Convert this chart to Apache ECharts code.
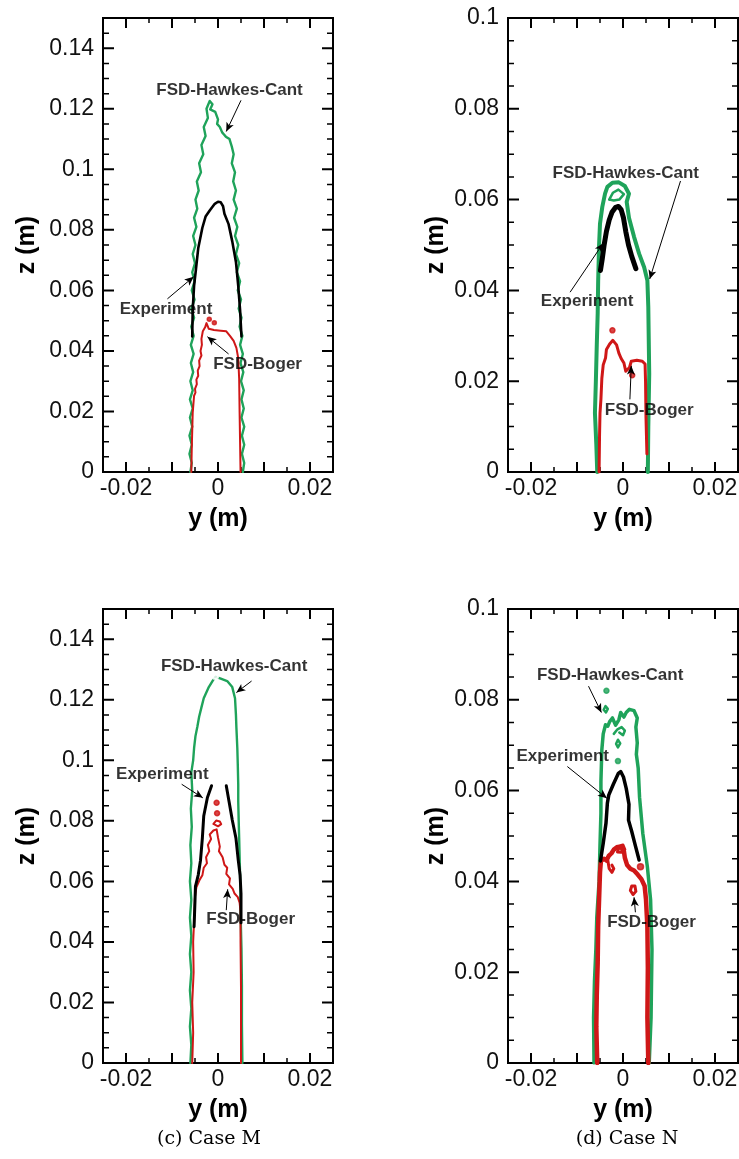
<!DOCTYPE html>
<html>
<head>
<meta charset="utf-8">
<script src="https://cdn.jsdelivr.net/npm/echarts@6/dist/echarts.min.js"></script>
<style>
  html, body { margin: 0; padding: 0; background: #fff; }
  #chart { width: 739px; height: 1159px; }
</style>
</head>
<body>
<div id="chart"></div>
<script>
// ---------- axis ticks and labels ----------
const xMajorTicks = [-0.02, -0.01, 0, 0.01, 0.02];
const xMinorTicks = [-0.015, -0.005, 0.005, 0.015];
const xLabelValues = [-0.02, 0, 0.02];
const xLabelTexts = ['-0.02', '0', '0.02'];
const zTicksTall = [0, 0.02, 0.04, 0.06, 0.08, 0.1, 0.12, 0.14];
const zTextsTall = ['0', '0.02', '0.04', '0.06', '0.08', '0.1', '0.12', '0.14'];
const zMinorTall = [0.005, 0.01, 0.015, 0.025, 0.03, 0.035, 0.045, 0.05, 0.055, 0.065, 0.07, 0.075,
  0.085, 0.09, 0.095, 0.105, 0.11, 0.115, 0.125, 0.13, 0.135, 0.145];
const zTicksShort = [0, 0.02, 0.04, 0.06, 0.08, 0.1];
const zTextsShort = ['0', '0.02', '0.04', '0.06', '0.08', '0.1'];
const zMinorShort = [0.005, 0.01, 0.015, 0.025, 0.03, 0.035, 0.045, 0.05, 0.055, 0.065, 0.07, 0.075,
  0.085, 0.09, 0.095];
const captions = ['', '', '(c) Case M', '(d) Case N'];
const noteTexts = ['FSD-Hawkes-Cant', 'Experiment', 'FSD-Boger'];

// ---------- panel 1 (upper left) flame fronts, [y, z] in metres ----------
const p1Hawkes = [
  [-0.0060,0.000],[-0.0057,0.003],[-0.0062,0.006],[-0.0057,0.009],[-0.0062,0.012],[-0.0056,0.015],
  [-0.0061,0.018],[-0.0055,0.021],[-0.0061,0.024],[-0.0055,0.027],[-0.0060,0.030],[-0.0054,0.033],
  [-0.0059,0.036],[-0.0053,0.039],[-0.0059,0.042],[-0.0053,0.045],[-0.0058,0.048],[-0.0052,0.051],
  [-0.0058,0.054],[-0.0051,0.057],[-0.0057,0.060],[-0.0051,0.063],[-0.0056,0.066],[-0.0050,0.069],
  [-0.0055,0.072],[-0.0049,0.075],[-0.0054,0.078],[-0.0047,0.081],[-0.0052,0.084],[-0.0045,0.087],
  [-0.0049,0.090],[-0.0042,0.093],[-0.0046,0.096],[-0.0037,0.099],[-0.0041,0.102],[-0.0032,0.105],
  [-0.0036,0.108],[-0.0027,0.111],[-0.0031,0.114],[-0.0022,0.117],[-0.0025,0.120],[-0.0018,0.1226],
  [-0.0012,0.1215],[-0.0017,0.1198],[-0.0006,0.1190],[0.0000,0.1165],[-0.0002,0.1150],[0.0004,0.1140],
  [0.0009,0.1122],[0.0013,0.1115],[0.0017,0.1108],[0.0025,0.1100],[0.0030,0.1075],[0.0034,0.105],
  [0.0030,0.102],[0.0037,0.099],[0.0033,0.096],[0.0039,0.093],[0.0034,0.090],[0.0041,0.087],
  [0.0035,0.084],[0.0042,0.081],[0.0037,0.078],[0.0044,0.075],[0.0039,0.072],[0.0046,0.069],
  [0.0041,0.066],[0.0048,0.063],[0.0043,0.060],[0.0050,0.057],[0.0045,0.054],[0.0051,0.051],
  [0.0047,0.048],[0.0053,0.045],[0.0048,0.042],[0.0054,0.039],[0.0049,0.036],[0.0055,0.033],
  [0.0050,0.030],[0.0056,0.027],[0.0051,0.024],[0.0056,0.021],[0.0051,0.018],[0.0057,0.015],
  [0.0052,0.012],[0.0057,0.009],[0.0052,0.006],[0.0057,0.003],[0.0054,0.000]
];
const p1Exp = [
  [-0.0056,0.0448],[-0.0055,0.0535],[-0.0052,0.0615],[-0.0048,0.0669],[-0.0043,0.0739],[-0.0034,0.0807],
  [-0.0027,0.0844],[-0.0018,0.0864],[-0.0007,0.0886],[0.0000,0.0893],[0.0006,0.0891],[0.0011,0.0878],
  [0.0014,0.0853],[0.0023,0.0819],[0.0031,0.0762],[0.0039,0.0694],[0.0044,0.0615],[0.0048,0.0535],
  [0.0051,0.0448]
];
const p1Boger = [
  [-0.0058,0.000],[-0.0057,0.0082],[-0.0055,0.0195],[-0.0052,0.0252],[-0.0049,0.0262],[-0.0050,0.0275],
  [-0.0046,0.0290],[-0.0047,0.0305],[-0.0043,0.0318],[-0.0044,0.0335],[-0.0040,0.0350],[-0.0041,0.0368],
  [-0.0036,0.0385],[-0.0038,0.0400],[-0.0035,0.0420],[-0.0036,0.0440],[-0.0033,0.0465],[-0.0028,0.0478],
  [-0.0025,0.0492],[-0.0020,0.0473],[-0.0009,0.0469],[0.0006,0.0467],[0.0018,0.0465],[0.0026,0.0450],
  [0.0034,0.0433],[0.0040,0.0410],[0.0044,0.0376],[0.0046,0.0308],[0.0047,0.0195],[0.0049,0.000]
];
const p1BogerDots = [[-0.0019,0.0505],[-0.0008,0.0493]];
const p1NoteAt = [[0.0025,0.1262],[-0.0113,0.0536],[0.0086,0.0357]];
const p1ArrowFrom = [[0.0050,0.1228],[-0.0110,0.0572],[0.0023,0.0390]];
const p1ArrowTo = [[0.0018,0.1125],[-0.0053,0.0645],[-0.0023,0.0447]];

// ---------- panel 2 (upper right) ----------
const p2Hawkes = [
  [-0.0056,0.000],[-0.0058,0.006],[-0.0061,0.013],[-0.0059,0.020],[-0.0057,0.028],[-0.0055,0.035],
  [-0.0054,0.042],[-0.0052,0.050],[-0.0050,0.0547],[-0.0045,0.0584],[-0.0039,0.0613],[-0.0034,0.0628],
  [-0.0023,0.0637],[-0.0009,0.0638],[0.0004,0.0630],[0.0013,0.0613],[0.0008,0.0595],[0.0013,0.0560],
  [0.0024,0.0518],[0.0035,0.0481],[0.0046,0.0451],[0.0053,0.0422],[0.0055,0.0363],[0.0057,0.0216],
  [0.0055,0.0100],[0.0054,0.000]
];
const p2HawkesLoop = [
  [-0.0030,0.0600],[-0.0022,0.0615],[-0.0010,0.0622],[0.0002,0.0612],[-0.0008,0.0600],[-0.0020,0.0598],[-0.0030,0.0600]
];
const p2Exp = [
  [-0.0049,0.0444],[-0.0045,0.0470],[-0.0041,0.0500],[-0.0036,0.0530],[-0.0030,0.0555],[-0.0024,0.0572],
  [-0.0016,0.0583],[-0.0010,0.0585],[-0.0004,0.0578],[0.0001,0.0560],[0.0006,0.0530],[0.0012,0.0500],
  [0.0019,0.0475],[0.0028,0.0448]
];
const p2Boger = [
  [-0.0052,0.000],[-0.0051,0.008],[-0.0050,0.013],[-0.0048,0.016],[-0.0046,0.0206],[-0.0043,0.0236],
  [-0.0038,0.0251],[-0.0036,0.0270],[-0.0029,0.0282],[-0.0022,0.0290],[-0.0014,0.0280],[-0.0009,0.0262],
  [-0.0004,0.0250],[0.0002,0.0240],[0.0006,0.0222],[0.0014,0.0230],[0.0018,0.0244],[0.0030,0.0246],
  [0.0042,0.0244],[0.0048,0.0238],[0.0049,0.0200],[0.0050,0.0120],[0.0052,0.0040]
];
const p2BogerDots = [[-0.0023,0.0312],[0.0020,0.0213]];
const p2NoteAt = [[0.0006,0.0657],[-0.0078,0.0376],[0.0057,0.0136]];
const p2ArrowFrom = [[0.0125,0.0641],[-0.0115,0.0396],[0.0015,0.0160]];
const p2ArrowTo = [[0.0058,0.0425],[-0.0043,0.0504],[0.0018,0.0234]];

// ---------- panel 3 (lower left, Case M) ----------
const p3Hawkes = [
  [-0.0060,0.000],[-0.0058,0.006],[-0.0061,0.012],[-0.0058,0.018],[-0.0061,0.024],[-0.0058,0.030],
  [-0.0061,0.036],[-0.0058,0.042],[-0.0061,0.048],[-0.0058,0.054],[-0.0061,0.060],[-0.0058,0.066],
  [-0.0060,0.072],[-0.0057,0.078],[-0.0059,0.084],[-0.0056,0.090],[-0.0058,0.096],[-0.0054,0.100],
  [-0.0052,0.104],[-0.0049,0.108],[-0.0045,0.111],[-0.0041,0.1144],[-0.0036,0.1175],[-0.0031,0.1205],
  [-0.0020,0.1242],[-0.0009,0.1269],[-0.0005,0.1276],[0.0006,0.1270],[0.0020,0.1262],[0.0031,0.1242],
  [0.0037,0.1205],[0.0039,0.1150],[0.0040,0.1108],[0.0042,0.1040],[0.0043,0.0986],[0.0044,0.0920],
  [0.0044,0.0864],[0.0045,0.0800],[0.0046,0.0743],[0.0047,0.0680],[0.0048,0.0621],[0.0049,0.0560],
  [0.0049,0.0499],[0.0051,0.0380],[0.0052,0.0256],[0.0052,0.0130],[0.0053,0.000]
];
const p3HawkesTip = [[-0.0006,0.1279]];
const p3ExpLeft = [
  [-0.0014,0.0916],[-0.0023,0.0877],[-0.0031,0.0816],[-0.0034,0.0743],[-0.0038,0.0670],[-0.0043,0.0621],
  [-0.0049,0.0584],[-0.0050,0.0536],[-0.0052,0.0450]
];
const p3ExpRight = [
  [0.0018,0.0916],[0.0024,0.0864],[0.0031,0.0803],[0.0039,0.0743],[0.0044,0.0670],[0.0048,0.0621],
  [0.0050,0.0560],[0.0050,0.0463]
];
const p3Boger = [
  [-0.0056,0.000],[-0.0054,0.010],[-0.0056,0.020],[-0.0053,0.030],[-0.0054,0.040],[-0.0051,0.050],
  [-0.0050,0.055],[-0.0047,0.058],[-0.0040,0.0605],[-0.0034,0.0620],[-0.0031,0.0645],[-0.0024,0.0660],
  [-0.0026,0.0680],[-0.0019,0.0700],[-0.0022,0.0720],[-0.0015,0.0740],[-0.0018,0.0755],[-0.0010,0.0768],
  [-0.0003,0.0772],[0.0000,0.0745],[0.0004,0.0715],[0.0002,0.0700],[0.0010,0.0680],[0.0014,0.0655],
  [0.0020,0.0645],[0.0018,0.0625],[0.0026,0.0610],[0.0024,0.0590],[0.0032,0.0575],[0.0036,0.0560],
  [0.0043,0.0548],[0.0047,0.0530],[0.0049,0.0500],[0.0049,0.0400],[0.0050,0.0250],[0.0050,0.000]
];
const p3BogerLoop = [
  [-0.0010,0.0790],[-0.0004,0.0801],[0.0004,0.0798],[0.0007,0.0789],[0.0000,0.0782],[-0.0010,0.0790]
];
const p3BogerDots = [[-0.0002,0.0825],[-0.0003,0.0860]];
const p3NoteAt = [[0.0035,0.1309],[-0.0121,0.0954],[0.0071,0.0474]];
const p3ArrowFrom = [[0.0073,0.1262],[-0.0079,0.0921],[0.0018,0.0505]];
const p3ArrowTo = [[0.0040,0.1224],[-0.0033,0.0876],[0.0021,0.0574]];

// ---------- panel 4 (lower right, Case N) ----------
const p4Hawkes = [
  [-0.0063,0.000],[-0.0064,0.010],[-0.0062,0.018],[-0.0059,0.025],[-0.0057,0.032],[-0.0052,0.040],
  [-0.0050,0.048],[-0.0048,0.055],[-0.0048,0.062],[-0.0046,0.069],[-0.0043,0.0725],[-0.0038,0.0745],
  [-0.0033,0.0742],[-0.0029,0.0752],[-0.0023,0.0760],[-0.0016,0.0744],[-0.0009,0.0756],[-0.0005,0.0772],
  [0.0002,0.0762],[0.0007,0.0772],[0.0014,0.0779],[0.0024,0.0776],[0.0031,0.0760],[0.0028,0.0740],
  [0.0031,0.0705],[0.0029,0.0680],[0.0033,0.0650],[0.0036,0.0585],[0.0043,0.0506],[0.0053,0.0432],
  [0.0060,0.0359],[0.0063,0.0250],[0.0061,0.0100],[0.0057,0.000]
];
const p4HawkesLoopA = [[-0.0042,0.0778],[-0.0038,0.0786],[-0.0033,0.0780],[-0.0037,0.0772],[-0.0042,0.0778]];
const p4HawkesLoopB = [[-0.0015,0.0703],[-0.0011,0.0712],[-0.0006,0.0704],[-0.0011,0.0695],[-0.0015,0.0703]];
const p4HawkesLoopC = [[-0.0020,0.0725],[-0.0012,0.0735],[-0.0003,0.0740],[0.0004,0.0732],[0.0000,0.0722],[-0.0008,0.0728]];
const p4HawkesDots = [[-0.0036,0.0820],[-0.0011,0.0665]];
const p4Exp = [
  [-0.0049,0.0445],[-0.0043,0.0484],[-0.0037,0.0528],[-0.0034,0.0572],[-0.0031,0.0590],[-0.0021,0.0614],
  [-0.0010,0.0638],[-0.0005,0.0642],[0.0001,0.0630],[0.0007,0.0605],[0.0013,0.0570],[0.0012,0.0535],
  [0.0019,0.0510],[0.0026,0.0482],[0.0035,0.0447]
];
const p4Boger = [
  [-0.0056,0.000],[-0.0058,0.008],[-0.0057,0.015],[-0.0055,0.022],[-0.0054,0.030],[-0.0052,0.036],
  [-0.0050,0.042],[-0.0048,0.0445],[-0.0041,0.0450],[-0.0036,0.0446],[-0.0031,0.0456],[-0.0025,0.0462],
  [-0.0020,0.0470],[-0.0012,0.0476],[-0.0004,0.0474],[0.0002,0.0466],[0.0004,0.0452],[0.0009,0.0436],
  [0.0016,0.0428],[0.0024,0.0424],[0.0032,0.0415],[0.0040,0.0405],[0.0047,0.0390],[0.0050,0.0360],
  [0.0053,0.0300],[0.0054,0.0210],[0.0053,0.0100],[0.0055,0.000]
];
const p4BogerHook = [[-0.0033,0.0446],[-0.0030,0.0428],[-0.0024,0.0420],[-0.0020,0.0428],[-0.0024,0.0436]];
const p4BogerRing = [[0.0016,0.0380],[0.0019,0.0390],[0.0026,0.0390],[0.0028,0.0378],[0.0022,0.0371],[0.0016,0.0380]];
const p4BogerBump = [[-0.0012,0.0465],[-0.0008,0.0478],[0.0000,0.0480],[0.0004,0.0470],[-0.0004,0.0464],[-0.0012,0.0465]];
const p4BogerDots = [[0.0038,0.0432]];
const p4NoteAt = [[-0.0028,0.0855],[-0.0131,0.0675],[0.0062,0.0310]];
const p4ArrowFrom = [[-0.0075,0.0830],[-0.0121,0.0653],[0.0027,0.0332]];
const p4ArrowTo = [[-0.0047,0.0772],[-0.0035,0.0583],[0.0024,0.0365]];

// ---------- styling ----------
const GREEN = '#1fa35a';
const RED = '#cf1717';
const BLACK = '#000000';
const SANS = '"Liberation Sans", Arial, Helvetica, sans-serif';
const Y_MIN = -0.025, Y_MAX = 0.025;

const panels = [
  { grid: { left: 103, top: 18, width: 230, height: 454 }, zMax: 0.15, zTicks: zTicksTall, zTexts: zTextsTall,
    zMinor: zMinorTall, zGap: 63, caption: null, lw: { g: 2.4, r: 2, k: 2.6 } },
  { grid: { left: 508, top: 18, width: 230, height: 454 }, zMax: 0.1, zTicks: zTicksShort, zTexts: zTextsShort,
    zMinor: zMinorShort, zGap: 59, caption: null, lw: { g: 4, r: 3, k: 5 } },
  { grid: { left: 103, top: 609, width: 230, height: 454 }, zMax: 0.15, zTicks: zTicksTall, zTexts: zTextsTall,
    zMinor: zMinorTall, zGap: 63, caption: { x: 209, y: 1139 }, lw: { g: 2.4, r: 2, k: 3 } },
  { grid: { left: 508, top: 609, width: 230, height: 454 }, zMax: 0.1, zTicks: zTicksShort, zTexts: zTextsShort,
    zMinor: zMinorShort, zGap: 59, caption: { x: 627, y: 1139 }, lw: { g: 3.5, r: 4.5, k: 3.5 } }
];

function pickLabel(values, texts) {
  return function (v) {
    const i = values.findIndex(t => Math.abs(t - v) < 1e-9);
    return i >= 0 ? texts[i] : '';
  };
}

// each frame: a boxed grid with one x and one z axis carrying the labels and titles
const grids = [], xAxes = [], yAxes = [];
panels.forEach((p, g) => {
  grids.push(Object.assign({ show: true, borderColor: '#000', borderWidth: 2, outerBoundsMode: 'none' }, p.grid));
  xAxes.push({
    gridIndex: g, type: 'value', min: Y_MIN, max: Y_MAX, position: 'bottom',
    splitLine: { show: false }, axisLine: { show: false, onZero: false }, axisTick: { show: false },
    axisLabel: { show: true, customValues: xLabelValues, formatter: pickLabel(xLabelValues, xLabelTexts),
      fontSize: 23, fontFamily: SANS, color: '#111', margin: 5 },
    name: 'y (m)', nameLocation: 'middle', nameGap: 35,
    nameTextStyle: { fontSize: 25, fontWeight: 'bold', fontFamily: SANS, color: '#000' }
  });
  yAxes.push({
    gridIndex: g, type: 'value', min: 0, max: p.zMax, position: 'left',
    splitLine: { show: false }, axisLine: { show: false, onZero: false }, axisTick: { show: false },
    axisLabel: { show: true, customValues: p.zTicks, formatter: pickLabel(p.zTicks, p.zTexts),
      fontSize: 23, fontFamily: SANS, color: '#111', margin: 9 },
    name: 'z (m)', nameLocation: 'middle', nameRotate: 90, nameGap: p.zGap,
    nameTextStyle: { fontSize: 25, fontWeight: 'bold', fontFamily: SANS, color: '#000' }
  });
});

// inward tick marks on all four sides of a frame, drawn as broken polylines in data space
const GAP = ['-', '-'];
function tickSeries(g, p, major) {
  const dz = px => px / p.grid.height * p.zMax;
  const dy = px => px / p.grid.width * (Y_MAX - Y_MIN);
  const xs = major ? xMajorTicks : xMinorTicks;
  const zs = major ? p.zTicks : p.zMinor;
  const lx = major ? 10 : 5, lz = major ? 11 : 6;
  const pts = [];
  xs.forEach(v => { pts.push([v, 0], [v, dz(lx)], GAP, [v, p.zMax], [v, p.zMax - dz(lx)], GAP); });
  zs.forEach(v => { pts.push([Y_MIN, v], [Y_MIN + dy(lz), v], GAP, [Y_MAX, v], [Y_MAX - dy(lz), v], GAP); });
  return { type: 'line', xAxisIndex: g, yAxisIndex: g, data: pts, symbol: 'none', clip: true, z: 3,
    lineStyle: { color: '#000', width: major ? 2 : 1.5 } };
}

function curve(g, data, color, width) {
  return { type: 'line', xAxisIndex: g, yAxisIndex: g, data: data, symbol: 'none', silent: true,
    clip: true, lineStyle: { color: color, width: width, join: 'round', cap: 'round' }, z: 3 };
}
function dots(g, data, color, size, symbol) {
  return { type: 'scatter', xAxisIndex: g, yAxisIndex: g, data: data, silent: true, z: 4,
    symbol: symbol || 'circle', symbolSize: size,
    itemStyle: { color: symbol === 'emptyCircle' ? '#fff' : color, borderColor: color, borderWidth: 1.5 } };
}
function notes(g, at, from, to) {
  return {
    type: 'scatter', xAxisIndex: g, yAxisIndex: g, silent: true, z: 6, symbolSize: 0,
    data: at.map((v, i) => ({ name: noteTexts[i], value: v })),
    label: { show: true, position: 'inside', formatter: '{b}', color: '#000',
      fontFamily: SANS, fontWeight: 'bold', fontSize: 17 },
    markLine: {
      silent: true, symbol: ['none', 'arrow'], symbolSize: [6, 9], animation: false,
      label: { show: false }, lineStyle: { color: '#000', width: 1, type: 'solid' },
      emphasis: { disabled: true },
      data: from.map((f, i) => [{ coord: f }, { coord: to[i] }])
    }
  };
}

const lw = panels.map(p => p.lw);
const series = [];
panels.forEach((p, g) => { series.push(tickSeries(g, p, true)); series.push(tickSeries(g, p, false)); });
series.push(
  // panel 1
  curve(0, p1Hawkes, GREEN, lw[0].g),
  curve(0, p1Boger, RED, lw[0].r),
  dots(0, p1BogerDots, RED, 4),
  curve(0, p1Exp, BLACK, lw[0].k),
  notes(0, p1NoteAt, p1ArrowFrom, p1ArrowTo),
  // panel 2
  curve(1, p2Hawkes, GREEN, lw[1].g),
  curve(1, p2HawkesLoop, GREEN, 2.5),
  curve(1, p2Boger, RED, lw[1].r),
  dots(1, p2BogerDots, RED, 5),
  curve(1, p2Exp, BLACK, lw[1].k),
  notes(1, p2NoteAt, p2ArrowFrom, p2ArrowTo),
  // panel 3
  curve(2, p3Hawkes, GREEN, lw[2].g),
  dots(2, p3HawkesTip, GREEN, 6, 'emptyCircle'),
  curve(2, p3Boger, RED, lw[2].r),
  curve(2, p3BogerLoop, RED, 2),
  dots(2, p3BogerDots, RED, 5),
  curve(2, p3ExpLeft, BLACK, lw[2].k),
  curve(2, p3ExpRight, BLACK, lw[2].k),
  notes(2, p3NoteAt, p3ArrowFrom, p3ArrowTo),
  // panel 4
  curve(3, p4Hawkes, GREEN, lw[3].g),
  curve(3, p4HawkesLoopA, GREEN, 2.5),
  curve(3, p4HawkesLoopB, GREEN, 2.5),
  curve(3, p4HawkesLoopC, GREEN, 2.5),
  dots(3, p4HawkesDots, GREEN, 5),
  curve(3, p4Boger, RED, lw[3].r),
  curve(3, p4BogerHook, RED, 3),
  curve(3, p4BogerRing, RED, 3),
  curve(3, p4BogerBump, RED, 3),
  dots(3, p4BogerDots, RED, 6),
  curve(3, p4Exp, BLACK, lw[3].k),
  notes(3, p4NoteAt, p4ArrowFrom, p4ArrowTo)
);

// captions below the lower panels
const graphic = [];
panels.forEach((p, g) => {
  if (!p.caption) return;
  graphic.push({
    type: 'text', x: p.caption.x, y: p.caption.y,
    style: { text: captions[g], align: 'center', verticalAlign: 'middle', textAlign: 'center',
      textVerticalAlign: 'middle', font: '19px "DejaVu Serif", "Liberation Serif", serif', fill: '#000' }
  });
});

const chart = echarts.init(document.getElementById('chart'));
chart.setOption({
  animation: false,
  backgroundColor: '#fff',
  grid: grids,
  xAxis: xAxes,
  yAxis: yAxes,
  series: series,
  graphic: graphic
});
</script>
</body>
</html>
